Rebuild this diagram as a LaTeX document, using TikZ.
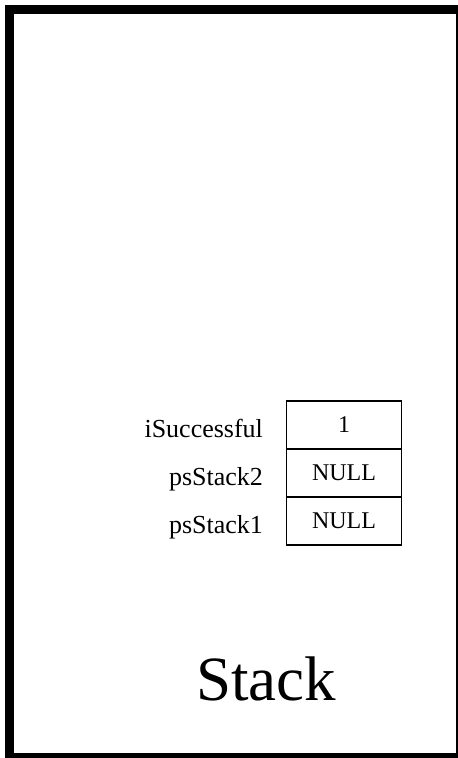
\documentclass[tikz,border=0pt]{standalone}
\usepackage{fontspec}
\setmainfont{Liberation Serif}
\usetikzlibrary{positioning,calc}

\begin{document}
\begin{tikzpicture}[x=1pt,y=-1pt,
  cell/.style={draw,line width=1.6pt,outer sep=0pt,inner sep=0pt,minimum width=115pt,minimum height=48pt,font=\fontsize{24}{28}\selectfont},
  lbl/.style={anchor=base east,font=\fontsize{26}{30}\selectfont}]
\clip (0,0) rectangle (458,758);
\draw[line width=9pt] (9.5,9.5) rectangle (460,757.5);
\node[cell] (succ) at (344,425) {1};
\node[cell,below=0pt of succ] (stack2) {NULL};
\node[cell,below=0pt of stack2] (stack1) {NULL};
\node[lbl] (succlbl) at ($(succ.west)+(-20,12.5)$) {iSuccessful};
\node[lbl] (stack2lbl) at ($(stack2.west)+(-20,12.5)$) {psStack2};
\node[lbl] (stack1lbl) at ($(stack1.west)+(-20,12.5)$) {psStack1};
\node[anchor=base,font=\fontsize{63}{72}\selectfont] (title) at (266,700.5) {Stack};
\end{tikzpicture}
\end{document}
